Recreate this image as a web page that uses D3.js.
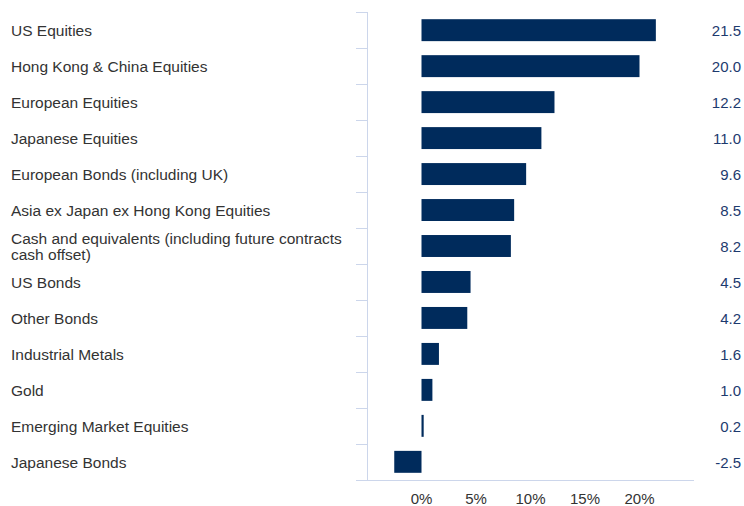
<!DOCTYPE html>
<html><head><meta charset="utf-8">
<script src="https://cdn.jsdelivr.net/npm/d3@7/dist/d3.min.js"></script>
<style>body{margin:0;background:#fff}svg{display:block}</style>
</head><body>
<svg id="c" width="744" height="506"></svg>
<script>
const categories = ["US Equities","Hong Kong & China Equities","European Equities","Japanese Equities","European Bonds (including UK)","Asia ex Japan ex Hong Kong Equities","Cash and equivalents (including future contracts|cash offset)","US Bonds","Other Bonds","Industrial Metals","Gold","Emerging Market Equities","Japanese Bonds"];
const values = [21.5,20.0,12.2,11.0,9.6,8.5,8.2,4.5,4.2,1.6,1.0,0.2,-2.5];
const xTicks = [0,5,10,15,20];

(function(){
const svg = d3.select("#c");
const pLeft = 367, pRight = 694, pTop = 12, pBottom = 480;
const x = d3.scaleLinear().domain([-5,25]).range([pLeft,pRight]);
const y = d3.scaleBand().domain(categories).range([pTop,pBottom]).paddingInner(0.39).paddingOuter(0.2);
const yb = d3.scaleBand().domain(categories).range([pTop,pBottom]);
const font = "Liberation Sans, Arial, sans-serif";

const bounds = categories.map(c=>yb(c)).concat([pBottom]);
svg.append("g").selectAll("line").data(bounds).join("line")
  .attr("x1",pLeft-11).attr("x2",pLeft).attr("y1",d=>Math.round(d)+0.5).attr("y2",d=>Math.round(d)+0.5)
  .attr("stroke","#ccd6eb").attr("stroke-width",1);
svg.append("line").attr("x1",pLeft+0.5).attr("x2",pLeft+0.5).attr("y1",pTop).attr("y2",pBottom)
  .attr("stroke","#ccd6eb");
svg.append("line").attr("x1",pLeft).attr("x2",pRight).attr("y1",pBottom+0.5).attr("y2",pBottom+0.5)
  .attr("stroke","#ccd6eb");

const lab = svg.append("g").selectAll("text").data(categories).join("text")
  .attr("x",11).attr("font-family",font).attr("font-size",15.5).attr("fill","#333");
lab.each(function(d){
  const parts = d.split("|");
  const cy = yb(d)+yb.bandwidth()/2;
  const t = d3.select(this);
  const lh = 16;
  const y0 = cy - (parts.length-1)*lh/2 + 6;
  parts.forEach((p,i)=>t.append("tspan").attr("x",11).attr("y",y0+i*lh).text(p));
});

svg.append("g").selectAll("rect").data(values).join("rect")
  .attr("x",d=>x(Math.min(0,d))).attr("width",d=>Math.abs(x(d)-x(0)))
  .attr("y",(d,i)=>y(categories[i])).attr("height",y.bandwidth())
  .attr("fill","#002b5c");

svg.append("g").selectAll("text").data(values).join("text")
  .attr("x",741).attr("text-anchor","end")
  .attr("y",(d,i)=>yb(categories[i])+yb.bandwidth()/2+6)
  .attr("font-family",font).attr("font-size",15).attr("fill","#1d3a6e")
  .text(d=>d.toFixed(1));

svg.append("g").selectAll("text").data(xTicks).join("text")
  .attr("x",d=>x(d)).attr("y",504).attr("text-anchor","middle")
  .attr("font-family",font).attr("font-size",15).attr("fill","#333")
  .text(d=>d+"%");
})();
</script>
</body></html>
